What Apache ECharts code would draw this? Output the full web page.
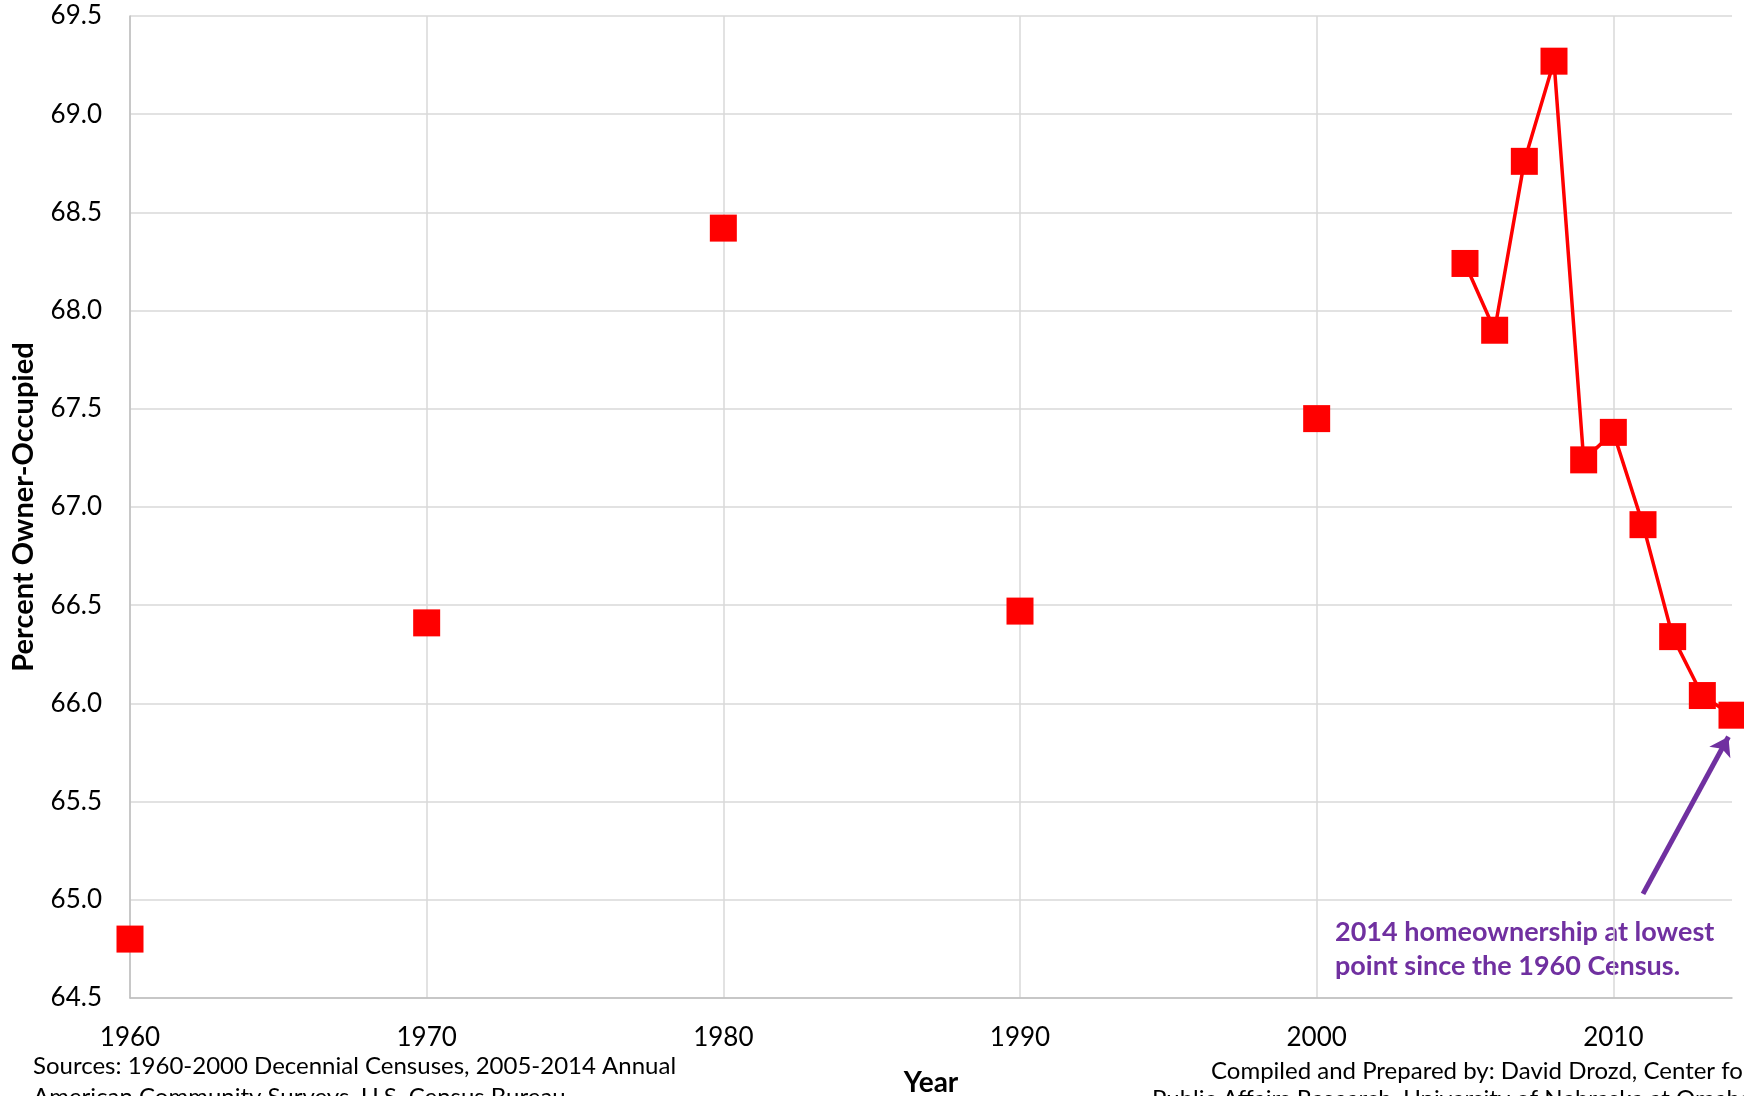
<!DOCTYPE html>
<html><head><meta charset="utf-8">
<script src="https://cdn.jsdelivr.net/npm/echarts@6/dist/echarts.min.js"></script>
<style>html,body{margin:0;padding:0;background:#fff}#c{width:1744px;height:1096px}</style>
</head><body><div id="c"></div>
<script>
// Decennial census points (not connected)
const decennialYears = [1960, 1970, 1980, 1990, 2000];
const decennialValues = [64.80, 66.41, 68.42, 66.47, 67.45];
// Annual ACS points (connected)
const acsYears = [2005, 2006, 2007, 2008, 2009, 2010, 2011, 2012, 2013, 2014];
const acsValues = [68.24, 67.90, 68.76, 69.27, 67.24, 67.38, 66.91, 66.34, 66.04, 65.94];
// Axis ranges
const xRange = [1960, 2014], xStep = 10;
const yRange = [64.5, 69.5], yStep = 0.5;
// Texts
const yTitle = 'Percent Owner-Occupied';
const xTitle = 'Year';
const annotationLines = ['2014 homeownership at lowest', 'point since the 1960 Census.'];
const sourceLines = ['Sources: 1960-2000 Decennial Censuses, 2005-2014 Annual', 'American Community Surveys, U.S. Census Bureau'];
const creditLines = ['Compiled and Prepared by: David Drozd, Center for', 'Public Affairs Research, University of Nebraska at Omaha'];
// Annotation arrow (data coordinates)
const arrowStart = [2011.0, 65.03];
const arrowEnd = [2013.88, 65.83];

const FONT = 'Lato';
const chart = echarts.init(document.getElementById('c'), null, {renderer: 'canvas'});
const purple = '#7030A0';
const red = '#FF0000';
const grid = '#d9d9d9';

chart.setOption({
  animation: false,
  backgroundColor: '#fff',
  grid: {left: 130, right: 12, top: 16, bottom: 98, containLabel: false, outerBoundsMode: 'none'},
  xAxis: {
    type: 'value', min: xRange[0], max: xRange[1], interval: xStep,
    name: xTitle, nameLocation: 'middle', nameGap: 71,
    nameTextStyle: {fontFamily: FONT, fontWeight: 'bold', fontSize: 28, color: '#000'},
    axisLine: {show: true, lineStyle: {color: '#bfbfbf', width: 1.5}},
    axisTick: {show: false},
    splitLine: {show: true, showMaxLine: false, lineStyle: {color: grid, width: 1.5}},
    axisLabel: {fontFamily: FONT, fontSize: 26, color: '#000', margin: 27, showMaxLabel: false,
      formatter: v => (v % 10 === 0 ? String(v) : '')}
  },
  yAxis: {
    type: 'value', min: yRange[0], max: yRange[1], interval: yStep,
    name: yTitle, nameLocation: 'middle', nameGap: 92,
    nameTextStyle: {fontFamily: FONT, fontWeight: 'bold', fontSize: 29, color: '#000'},
    axisLine: {show: true, lineStyle: {color: '#bfbfbf', width: 1.5}},
    axisTick: {show: false},
    splitLine: {show: true, lineStyle: {color: grid, width: 1.5}},
    axisLabel: {fontFamily: FONT, fontSize: 26, color: '#000', margin: 28,
      formatter: v => v.toFixed(1)}
  },
  series: [
    {
      type: 'scatter', name: 'Decennial',
      data: decennialYears.map((y, i) => [y, decennialValues[i]]),
      symbol: 'rect', symbolSize: 27, clip: false,
      itemStyle: {color: red, opacity: 1}
    },
    {
      type: 'line', name: 'ACS',
      data: acsYears.map((y, i) => [y, acsValues[i]]),
      symbol: 'rect', symbolSize: 27, showAllSymbol: true, clip: false,
      lineStyle: {color: red, width: 3.5},
      itemStyle: {color: red, opacity: 1},
      markLine: {
        silent: true, symbol: ['none', 'arrow'], symbolSize: 18, animation: false,
        label: {show: false},
        lineStyle: {color: purple, width: 5, type: 'solid'},
        data: [[{coord: arrowStart}, {coord: arrowEnd}]]
      }
    }
  ],
  graphic: [
    {type: 'text', x: 1335, y: 932, style: {text: annotationLines[0], font: 'bold 27px ' + FONT, fill: purple, align: 'left', verticalAlign: 'middle'}},
    {type: 'text', x: 1335, y: 966, style: {text: annotationLines[1], font: 'bold 27px ' + FONT, fill: purple, align: 'left', verticalAlign: 'middle'}},
    {type: 'text', x: 33, y: 1066, style: {text: sourceLines[0], font: '24px ' + FONT, fill: '#000', align: 'left', verticalAlign: 'middle'}},
    {type: 'text', x: 33, y: 1097, style: {text: sourceLines[1], font: '24px ' + FONT, fill: '#000', align: 'left', verticalAlign: 'middle'}},
    {type: 'text', x: 1211, y: 1071, style: {text: creditLines[0], font: '24px ' + FONT, fill: '#000', align: 'left', verticalAlign: 'middle'}},
    {type: 'text', x: 1152, y: 1099, style: {text: creditLines[1], font: '24px ' + FONT, fill: '#000', align: 'left', verticalAlign: 'middle'}}
  ]
});
</script></body></html>
